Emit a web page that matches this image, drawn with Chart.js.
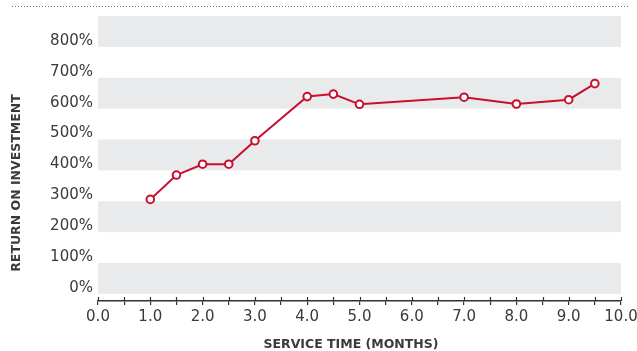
<!DOCTYPE html>
<html>
<head>
<meta charset="utf-8">
<script src="https://cdn.jsdelivr.net/npm/chart.js@4"></script>
<style>
  html, body { margin: 0; padding: 0; background: #fff; }
</style>
</head>
<body>
<canvas id="chart" width="637" height="351"></canvas>
<script>
// service time in months and return on investment in percent
const months = [1.0, 1.5, 2.0, 2.5, 3.0, 4.0, 4.5, 5.0, 7.0, 8.0, 9.0, 9.5];
const roi = [306, 385, 420, 420, 496, 639, 647, 614, 637, 615, 629, 681];
const yTicks = [0, 100, 200, 300, 400, 500, 600, 700, 800];
const xTitle = 'SERVICE TIME (MONTHS)';
const yTitle = 'RETURN ON INVESTMENT';

const red = '#c8102e';
const textColor = '#3a3a3a';
const font = 'DejaVu Sans';

// alternating grey bands every 100%, dotted top rule, axis titles, upper half of x ticks
const decor = {
  id: 'decor',
  beforeDatasetsDraw(chart) {
    const { ctx, chartArea, scales } = chart;
    const y = scales.y;
    ctx.save();
    ctx.fillStyle = '#e9eaec';
    for (let v = 0; v < 900; v += 200) {
      const top = y.getPixelForValue(v + 100);
      const bot = y.getPixelForValue(v);
      ctx.fillRect(chartArea.left, top, chartArea.right - chartArea.left, bot - top);
    }
    ctx.restore();
  },
  afterDraw(chart) {
    const { ctx, scales } = chart;
    const x = scales.x;
    ctx.save();
    ctx.strokeStyle = '#777';
    ctx.lineWidth = 1;
    ctx.setLineDash([1, 2]);
    ctx.beginPath();
    ctx.moveTo(12, 6.5);
    ctx.lineTo(630, 6.5);
    ctx.stroke();
    ctx.setLineDash([]);

    ctx.strokeStyle = '#333';
    ctx.lineWidth = 1.2;
    x.ticks.forEach(t => {
      const px = Math.round(x.getPixelForValue(t.value)) + 0.5;
      ctx.beginPath();
      ctx.moveTo(px, x.top - 4);
      ctx.lineTo(px, x.top);
      ctx.stroke();
    });
    ctx.fillStyle = textColor;
    ctx.font = 'bold 12.5px ' + font;
    ctx.textAlign = 'center';
    ctx.textBaseline = 'middle';
    ctx.fillText(xTitle, 351, 345);
    ctx.translate(17, 183);
    ctx.rotate(-Math.PI / 2);
    ctx.fillText(yTitle, 0, 0);
    ctx.restore();
  }
};

new Chart(document.getElementById('chart'), {
  type: 'line',
  data: {
    datasets: [{
      data: months.map((m, i) => ({ x: m, y: roi[i] })),
      borderColor: red,
      borderWidth: 2,
      pointRadius: 3.8,
      pointBorderWidth: 2,
      pointBackgroundColor: '#fff',
      pointBorderColor: red,
      tension: 0
    }]
  },
  options: {
    responsive: false,
    animation: false,
    layout: { padding: { top: 16, right: 16, left: 0, bottom: 0 } },
    plugins: { legend: { display: false }, tooltip: { enabled: false } },
    scales: {
      x: {
        type: 'linear',
        min: 0,
        max: 10,
        afterFit: s => { s.height = 50; s.paddingLeft = 0; s.paddingRight = 0; },
        grid: { display: true, drawOnChartArea: false, tickLength: 4, color: '#333', lineWidth: 1.2 },
        border: { display: true, color: '#333', width: 1.5 },
        ticks: {
          stepSize: 0.5,
          autoSkip: false,
          maxRotation: 0,
          padding: 3,
          color: textColor,
          font: { family: font, size: 15 },
          callback: v => (Number.isInteger(v) ? v.toFixed(1) : '')
        }
      },
      y: {
        min: -23,
        max: 900,
        afterFit: s => { s.width = 98; s.paddingTop = 0; s.paddingBottom = 0; },
        afterBuildTicks: s => { s.ticks = yTicks.map(v => ({ value: v })); },
        grid: { display: false, drawTicks: false },
        border: { display: false },
        ticks: {
          padding: 5,
          labelOffset: -6,
          color: textColor,
          font: { family: font, size: 15 },
          callback: v => v + '%'
        }
      }
    }
  },
  plugins: [decor]
});
</script>
</body>
</html>
